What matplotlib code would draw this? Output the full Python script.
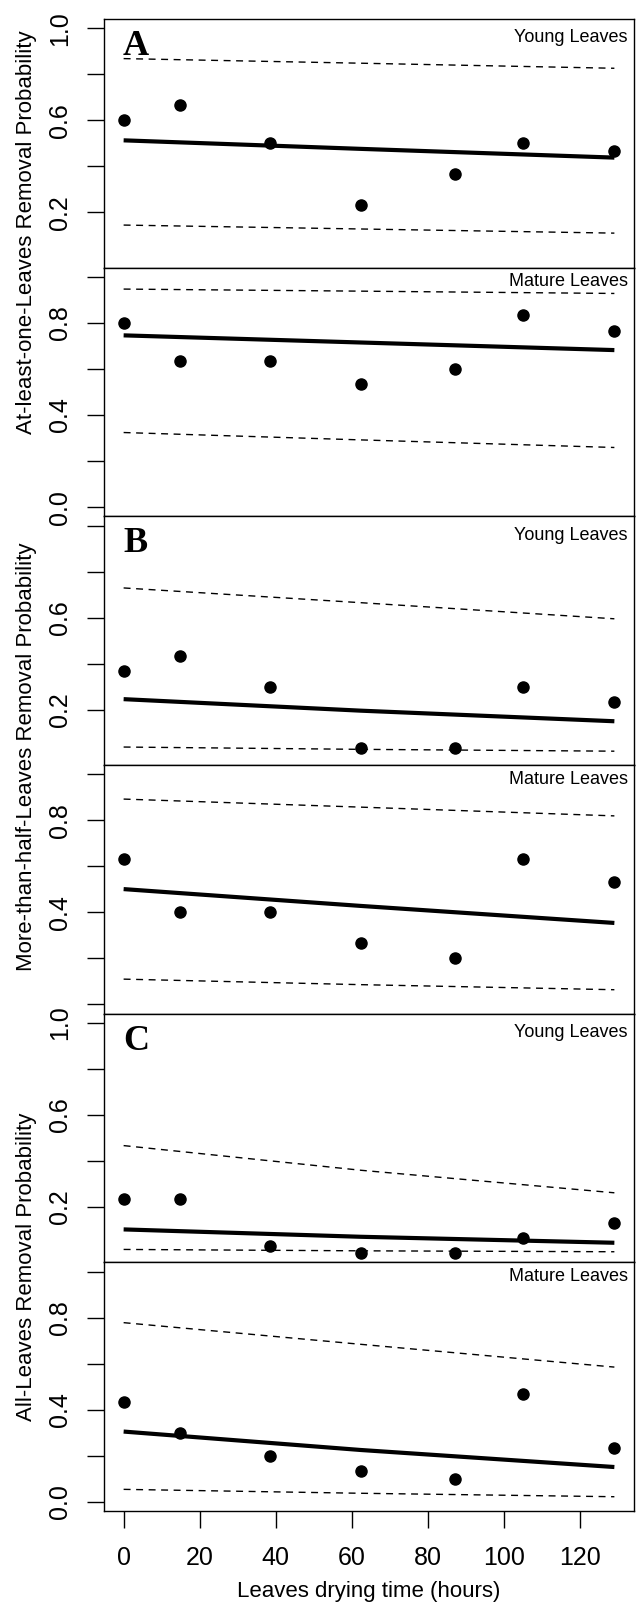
"""
Removal probability vs. leaves drying time: six stacked panels
(young / mature leaves for three removal criteria A, B, C).
"""

import matplotlib
matplotlib.use("Agg")
import matplotlib.pyplot as plt

plt.rcParams["font.family"] = ["Liberation Sans", "DejaVu Sans"]

# --- data ---
drying_hours = [0, 14.8, 38.4, 62.3, 87.1, 105, 129]
fit_hours = [0, 62.3, 129]

young_A_obs = [0.600, 0.667, 0.500, 0.233, 0.367, 0.500, 0.467]
young_A_fit = [0.513, 0.476, 0.438]
young_A_upper = [0.868, 0.848, 0.826]
young_A_lower = [0.145, 0.128, 0.110]

mature_A_obs = [0.800, 0.633, 0.633, 0.533, 0.600, 0.833, 0.767]
mature_A_fit = [0.746, 0.715, 0.682]
mature_A_upper = [0.947, 0.938, 0.928]
mature_A_lower = [0.324, 0.292, 0.259]

young_B_obs = [0.367, 0.433, 0.300, 0.033, 0.033, 0.300, 0.233]
young_B_fit = [0.246, 0.196, 0.150]
young_B_upper = [0.729, 0.665, 0.595]
young_B_lower = [0.038, 0.028, 0.020]

mature_B_obs = [0.633, 0.400, 0.400, 0.267, 0.200, 0.633, 0.533]
mature_B_fit = [0.501, 0.428, 0.354]
mature_B_upper = [0.892, 0.857, 0.819]
mature_B_lower = [0.110, 0.086, 0.064]

young_C_obs = [0.233, 0.233, 0.033, 0.000, 0.000, 0.067, 0.133]
young_C_fit = [0.103, 0.071, 0.045]
young_C_upper = [0.467, 0.360, 0.262]
young_C_lower = [0.016, 0.010, 0.006]

mature_C_obs = [0.433, 0.300, 0.200, 0.133, 0.100, 0.467, 0.233]
mature_C_fit = [0.305, 0.225, 0.151]
mature_C_upper = [0.778, 0.684, 0.585]
mature_C_lower = [0.054, 0.037, 0.022]

young_ticks = [0.2, 0.4, 0.6, 0.8, 1.0]
mature_ticks = [0.0, 0.2, 0.4, 0.6, 0.8, 1.0]
x_ticks = [0, 20, 40, 60, 80, 100, 120]

panels = [
    # (obs, fit, upper, lower, ticks, tick labels, leaf label, letter)
    (young_A_obs, young_A_fit, young_A_upper, young_A_lower, young_ticks,
     ["0.2", "", "0.6", "", "1.0"], "Young Leaves", "A"),
    (mature_A_obs, mature_A_fit, mature_A_upper, mature_A_lower, mature_ticks,
     ["0.0", "", "0.4", "", "0.8", ""], "Mature Leaves", None),
    (young_B_obs, young_B_fit, young_B_upper, young_B_lower, young_ticks,
     ["0.2", "", "0.6", "", ""], "Young Leaves", "B"),
    (mature_B_obs, mature_B_fit, mature_B_upper, mature_B_lower, mature_ticks,
     ["", "", "0.4", "", "0.8", ""], "Mature Leaves", None),
    (young_C_obs, young_C_fit, young_C_upper, young_C_lower, young_ticks,
     ["0.2", "", "0.6", "", "1.0"], "Young Leaves", "C"),
    (mature_C_obs, mature_C_fit, mature_C_upper, mature_C_lower, mature_ticks,
     ["0.0", "", "0.4", "", "0.8", ""], "Mature Leaves", None),
]

group_labels = [
    "At-least-one-Leaves Removal Probability",
    "More-than-half-Leaves Removal Probability",
    "All-Leaves Removal Probability",
]
group_label_y_px = [232, 757, 1267]

W, H = 640, 1604
fig = plt.figure(figsize=(W / 100, H / 100), dpi=100)

left_px, right_px = 104, 634
top_px, bottom_px = 19, 1511
panel_h = (bottom_px - top_px) / 6

for i, (obs, fit, upper, lower, ticks, tlabels, leaf, letter) in enumerate(panels):
    y0 = top_px + i * panel_h
    ax = fig.add_axes([left_px / W, 1 - (y0 + panel_h) / H,
                       (right_px - left_px) / W, panel_h / H])
    ax.plot(drying_hours, obs, "o", color="black", markersize=8, zorder=4)
    ax.plot(fit_hours, fit, color="black", linewidth=3.0, solid_capstyle="butt")
    ax.plot(fit_hours, upper, color="black", linewidth=1.0, dashes=(5, 4))
    ax.plot(fit_hours, lower, color="black", linewidth=1.0, dashes=(5, 4))

    ax.set_xlim(-5.16, 134.16)
    ax.set_ylim(-0.04, 1.04)
    ax.set_yticks(ticks)
    ax.set_yticklabels(tlabels, rotation=90, va="center", fontsize=18)
    ax.tick_params(axis="y", length=12, width=1, pad=11)
    for s in ax.spines.values():
        s.set_linewidth(1.0)

    yoff = 19 if leaf.startswith("Young") else 14
    ax.text(1 - 6 / (right_px - left_px), 1 - yoff / panel_h, leaf,
            transform=ax.transAxes, ha="right", va="center", fontsize=13)
    if letter:
        ax.text(19 / (right_px - left_px), 1 - 36 / panel_h, letter,
                transform=ax.transAxes, ha="left", va="baseline",
                fontsize=26, fontweight="bold", family="Liberation Serif")

    if i < 5:
        ax.tick_params(axis="x", bottom=False, labelbottom=False)
    else:
        ax.set_xticks(x_ticks)
        ax.set_xticklabels([str(t) for t in x_ticks], fontsize=18)
        ax.tick_params(axis="x", length=12, width=1, pad=13)

for label, yc in zip(group_labels, group_label_y_px):
    fig.text(27 / W, 1 - yc / H, label, rotation=90, ha="center", va="center",
             fontsize=16)

fig.text((left_px + right_px) / 2 / W, 1 - 1592 / H, "Leaves drying time (hours)",
         ha="center", va="center", fontsize=16)

fig.savefig("out.png", dpi=100)
